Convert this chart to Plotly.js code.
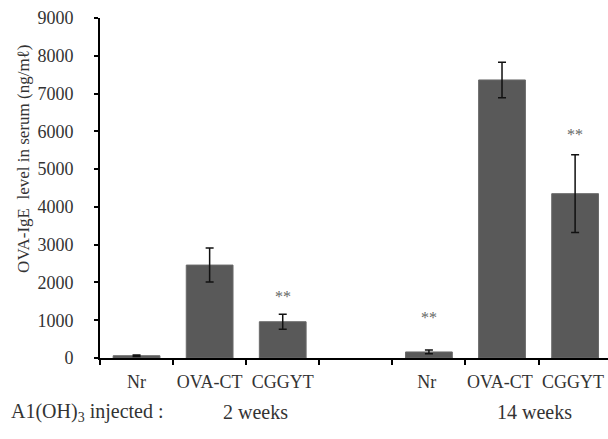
<!DOCTYPE html>
<html><head><meta charset="utf-8">
<script src="https://cdn.plot.ly/plotly-3.0.1.min.js"></script>
<style>html,body{margin:0;padding:0;background:#fff}#c{width:608px;height:439px}</style>
</head><body><div id="c"></div>
<script>
const categories = ["Nr", "OVA-CT", "CGGYT", " ", "Nr ", "OVA-CT ", "CGGYT "];
const values = [60, 2460, 960, null, 160, 7360, 4350];
const errors = [20, 450, 200, null, 50, 470, 1030];
const sigLabels = ["", "", "**", "", "**", "", "**"];
const sigY = [0, 0, 1620, 0, 1080, 0, 5920];
const groupLabels = ["2 weeks", "14 weeks"];

const serif = "Liberation Serif, serif";
const txt = '#333';
const annotations = [];
categories.forEach((c, i) => {
  if (sigLabels[i]) annotations.push({x: c, y: sigY[i], xref: 'x', yref: 'y', text: sigLabels[i], showarrow: false,
    font: {family: serif, size: 16, color: '#666'}});
});
annotations.push({xref: 'paper', yref: 'paper', x: -0.179, y: -0.159, xanchor: 'left', yanchor: 'middle',
  text: 'A1(OH)<sub>3</sub> injected :', showarrow: false, font: {family: serif, size: 20, color: txt}});
annotations.push({xref: 'paper', yref: 'paper', x: 0.307, y: -0.159, xanchor: 'center', yanchor: 'middle',
  text: groupLabels[0], showarrow: false, font: {family: serif, size: 20, color: txt}});
annotations.push({xref: 'paper', yref: 'paper', x: 0.856, y: -0.159, xanchor: 'center', yanchor: 'middle',
  text: groupLabels[1], showarrow: false, font: {family: serif, size: 20, color: txt}});
annotations.push({xref: 'paper', yref: 'paper', x: -0.152, y: 0.585, xanchor: 'center', yanchor: 'middle', textangle: -90,
  text: 'OVA-IgE  level in serum (ng/mℓ)', showarrow: false, font: {family: serif, size: 17, color: txt}});

Plotly.newPlot('c', [{
  type: 'bar', x: categories, y: values,
  marker: {color: '#595959', line: {color: '#6a6a6a', width: 1}},
  width: 0.64,
  error_y: {type: 'data', array: errors, visible: true, color: '#111', thickness: 1.5, width: 4}
}], {
  width: 608, height: 439,
  margin: {l: 100, r: 0, t: 18, b: 81},
  paper_bgcolor: '#fff', plot_bgcolor: '#fff',
  showlegend: false,
  xaxis: {type: 'category', categoryorder: 'array', categoryarray: categories, range: [-0.5, 6.45],
    tickson: 'boundaries', ticks: 'outside', ticklen: 5, tickwidth: 2, tickcolor: '#000', tickangle: 0,
    ticklabelstandoff: 6,
    showline: true, linecolor: '#000', linewidth: 2, showgrid: false, zeroline: false,
    tickfont: {family: serif, size: 18, color: txt}, automargin: false},
  yaxis: {range: [0, 9000], dtick: 1000, ticks: 'outside', ticklen: 4, tickwidth: 2, tickcolor: '#000',
    ticklabelstandoff: 17,
    showline: true, linecolor: '#000', linewidth: 2, showgrid: false, zeroline: false,
    tickfont: {family: serif, size: 18, color: txt}, automargin: false},
  annotations: annotations
}, {staticPlot: true});
</script></body></html>
